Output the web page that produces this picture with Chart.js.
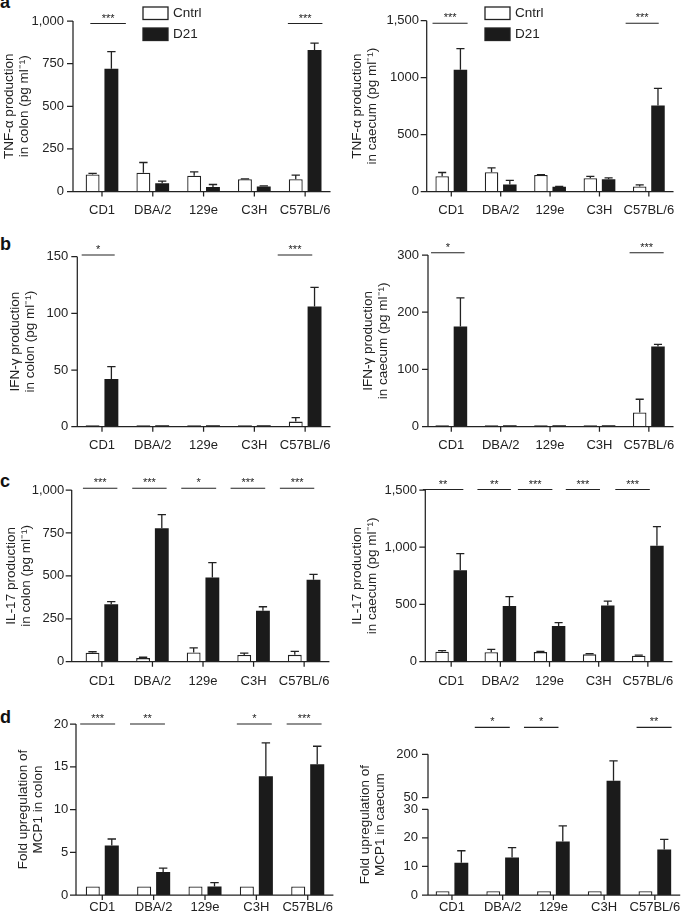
<!DOCTYPE html>
<html><head><meta charset="utf-8">
<script src="https://cdn.jsdelivr.net/npm/chart.js"></script>
<style>
html,body{margin:0;padding:0;background:#fff;}
#fig{position:relative;width:685px;height:918px;overflow:hidden;background:#fff;}
#fig canvas{position:absolute;}
.lt{position:absolute;left:0;font:bold 18px 'Liberation Sans',Arial,sans-serif;line-height:18px;color:#111;}
</style></head><body>
<div id="fig">
<div class="lt" style="top:-7px">a</div>
<div class="lt" style="top:235px">b</div>
<div class="lt" style="top:472px">c</div>
<div class="lt" style="top:708px">d</div>
</div>
<script>
const FONT = "'Liberation Sans', Arial, Helvetica, sans-serif";
const INK = '#222222';
const BLACK = '#1b1b1b';

// ---------- data ----------
const categories = ['CD1', 'DBA/2', '129e', 'C3H', 'C57BL/6'];
const groupNames = ['Cntrl', 'D21'];

// a: TNF-alpha, colon
const tnfColonCntrl = [100, 110, 92, 72, 72];
const tnfColonCntrlErr = [6, 60, 23, 2, 24];
const tnfColonD21 = [720, 49, 27, 29, 830];
const tnfColonD21Err = [100, 12, 14, 4, 40];
const tnfColonTicks = [0, 250, 500, 750, 1000];
const tnfColonTickLabels = ['0', '250', '500', '750', '1,000'];
const tnfColonSig = ['***', '', '', '', '***'];

// a: TNF-alpha, caecum
const tnfCaecumCntrl = [135, 170, 145, 117, 44];
const tnfCaecumCntrlErr = [32, 38, 3, 15, 15];
const tnfCaecumD21 = [1070, 62, 41, 108, 755];
const tnfCaecumD21Err = [185, 35, 3, 12, 150];
const tnfCaecumTicks = [0, 500, 1000, 1500];
const tnfCaecumTickLabels = ['0', '500', '1000', '1,500'];
const tnfCaecumSig = ['***', '', '', '', '***'];

// b: IFN-gamma, colon
const ifnColonCntrl = [1.2, 1.2, 1.2, 1.2, 4.5];
const ifnColonCntrlErr = [0, 0, 0, 0, 3.5];
const ifnColonD21 = [42, 1.2, 1.2, 1.2, 106];
const ifnColonD21Err = [11, 0, 0, 0, 17];
const ifnColonTicks = [0, 50, 100, 150];
const ifnColonTickLabels = ['0', '50', '100', '150'];
const ifnColonSig = ['*', '', '', '', '***'];

// b: IFN-gamma, caecum
const ifnCaecumCntrl = [2.5, 2.5, 2.5, 2.5, 25];
const ifnCaecumCntrlErr = [0, 0, 0, 0, 23];
const ifnCaecumD21 = [175, 2.5, 2.5, 2.5, 140];
const ifnCaecumD21Err = [50, 0, 0, 0, 4];
const ifnCaecumTicks = [0, 100, 200, 300];
const ifnCaecumTickLabels = ['0', '100', '200', '300'];
const ifnCaecumSig = ['*', '', '', '', '***'];

// c: IL-17, colon
const il17ColonCntrl = [52, 21, 54, 39, 40];
const il17ColonCntrlErr = [6, 5, 27, 11, 20];
const il17ColonD21 = [334, 777, 491, 297, 478];
const il17ColonD21Err = [16, 80, 86, 23, 31];
const il17ColonTicks = [0, 250, 500, 750, 1000];
const il17ColonTickLabels = ['0', '250', '500', '750', '1,000'];
const il17ColonSig = ['***', '***', '*', '***', '***'];

// c: IL-17, caecum
const il17CaecumCntrl = [87, 82, 84, 64, 52];
const il17CaecumCntrlErr = [9, 26, 5, 6, 6];
const il17CaecumD21 = [800, 486, 312, 492, 1014];
const il17CaecumD21Err = [145, 82, 29, 38, 166];
const il17CaecumTicks = [0, 500, 1000, 1500];
const il17CaecumTickLabels = ['0', '500', '1,000', '1,500'];
const il17CaecumSig = ['**', '**', '***', '***', '***'];

// d: MCP1 fold upregulation, colon
const mcpColonCntrl = [1, 1, 1, 1, 1];
const mcpColonCntrlErr = [0, 0, 0, 0, 0];
const mcpColonD21 = [5.8, 2.7, 1.0, 13.9, 15.3];
const mcpColonD21Err = [0.75, 0.45, 0.45, 3.9, 2.1];
const mcpColonTicks = [0, 5, 10, 15, 20];
const mcpColonTickLabels = ['0', '5', '10', '15', '20'];
const mcpColonSig = ['***', '**', '', '*', '***'];

// d: MCP1 fold upregulation, caecum (broken axis 30 -> 50)
const mcpCaecumCntrl = [1.3, 1.3, 1.3, 1.3, 1.3];
const mcpCaecumCntrlErr = [0, 0, 0, 0, 0];
const mcpCaecumD21 = [11.3, 13.1, 18.7, 109, 15.9];
const mcpCaecumD21Err = [4.2, 3.5, 5.5, 68, 3.6];
const mcpCaecumTicks = [0, 10, 20, 30, 50, 200];
const mcpCaecumTickLabels = ['0', '10', '20', '30', '50', '200'];
const mcpCaecumSig = ['', '*', '*', '', '**'];

// ---------- broken linear scale (0-30 | 50-200) ----------
const BRK = { lowMax: 30, highMin: 50, lowFrac: 0.609, gapFrac: 0.0824 };
class BrokenScale extends Chart.LinearScale {
  _frac(v) {
    if (v <= BRK.lowMax) return v / BRK.lowMax * BRK.lowFrac;
    if (v < BRK.highMin) return BRK.lowFrac + (v - BRK.lowMax) / (BRK.highMin - BRK.lowMax) * BRK.gapFrac;
    return BRK.lowFrac + BRK.gapFrac + (v - BRK.highMin) / (this.max - BRK.highMin) * (1 - BRK.lowFrac - BRK.gapFrac);
  }
  getPixelForValue(v) { return this.bottom - this._frac(v) * (this.bottom - this.top); }
  getValueForPixel(px) {
    const f = (this.bottom - px) / (this.bottom - this.top);
    const a = BRK.lowFrac, g = BRK.lowFrac + BRK.gapFrac;
    if (f <= a) return f / a * BRK.lowMax;
    if (f < g) return BRK.lowMax + (f - a) / BRK.gapFrac * (BRK.highMin - BRK.lowMax);
    return BRK.highMin + (f - g) / (1 - g) * (this.max - BRK.highMin);
  }
}
BrokenScale.id = 'broken';
BrokenScale.defaults = Chart.LinearScale.defaults;
Chart.register(BrokenScale);

// ---------- panel layout ----------
const panels = [
  { cx: 0, cy: 0, cw: 342, ch: 226, L: 76.6, R: 333.4, T: 21, B: 191.5, axisX: 73, yPad: 12.6, titlePad: 1.5, xPad: 10.7, legend: true,
    title: ['TNF-\u03b1 production', 'in colon (pg ml\u207b\u00b9)'],
    cntrl: tnfColonCntrl, cntrlErr: tnfColonCntrlErr, d21: tnfColonD21, d21Err: tnfColonD21Err,
    ticks: tnfColonTicks, tickLabels: tnfColonTickLabels, sig: tnfColonSig, sigLevel: 985,
    sigX: [[-0.23, 0.47], null, null, null, [3.66, 4.34]] },
  { cx: 342, cy: 0, cw: 343, ch: 226, L: 426.6, R: 683.4, T: 20.7, B: 191.5, axisX: 426.7, yPad: 7.6, titlePad: 7.5, xPad: 10.7, legend: true,
    title: ['TNF-\u03b1 production', 'in caecum (pg ml\u207b\u00b9)'],
    cntrl: tnfCaecumCntrl, cntrlErr: tnfCaecumCntrlErr, d21: tnfCaecumD21, d21Err: tnfCaecumD21Err,
    ticks: tnfCaecumTicks, tickLabels: tnfCaecumTickLabels, sig: tnfCaecumSig, sigLevel: 1478,
    sigX: [[-0.38, 0.33], null, null, null, [3.53, 4.2]] },
  { cx: 0, cy: 226, cw: 342, ch: 229, L: 76.6, R: 333.4, T: 256.7, B: 426.7, axisX: 77.3, yPad: 8.3, titlePad: 7.5, xPad: 10.7,
    title: ['IFN-\u03b3 production', 'in colon (pg ml\u207b\u00b9)'],
    cntrl: ifnColonCntrl, cntrlErr: ifnColonCntrlErr, d21: ifnColonD21, d21Err: ifnColonD21Err,
    ticks: ifnColonTicks, tickLabels: ifnColonTickLabels, sig: ifnColonSig, sigLevel: 151.5,
    sigX: [[-0.4, 0.25], null, null, null, [3.46, 4.14]] },
  { cx: 342, cy: 226, cw: 343, ch: 229, L: 426.6, R: 683.4, T: 255, B: 426.7, axisX: 428, yPad: 7.6, titlePad: 18.5, xPad: 10.7,
    title: ['IFN-\u03b3 production', 'in caecum (pg ml\u207b\u00b9)'],
    cntrl: ifnCaecumCntrl, cntrlErr: ifnCaecumCntrlErr, d21: ifnCaecumD21, d21Err: ifnCaecumD21Err,
    ticks: ifnCaecumTicks, tickLabels: ifnCaecumTickLabels, sig: ifnCaecumSig, sigLevel: 304,
    sigX: [[-0.41, 0.27], null, null, null, [3.61, 4.3]] },
  { cx: 0, cy: 455, cw: 342, ch: 235, L: 76.6, R: 333.4, T: 490, B: 661.7, axisX: 71.7, yPad: 12.3, titlePad: 3.5, xPad: 11.7,
    title: ['IL-17 production', 'in colon (pg ml\u207b\u00b9)'],
    cntrl: il17ColonCntrl, cntrlErr: il17ColonCntrlErr, d21: il17ColonD21, d21Err: il17ColonD21Err,
    ticks: il17ColonTicks, tickLabels: il17ColonTickLabels, sig: il17ColonSig, sigLevel: 1010,
    sigX: [[-0.375, 0.306], [0.6, 1.28], [1.57, 2.26], [2.545, 3.23], [3.52, 4.2]] },
  { cx: 342, cy: 455, cw: 343, ch: 235, L: 426.6, R: 683.4, T: 490, B: 661.7, axisX: 425.3, yPad: 9.6, titlePad: 8, xPad: 11.7,
    title: ['IL-17 production', 'in caecum (pg ml\u207b\u00b9)'],
    cntrl: il17CaecumCntrl, cntrlErr: il17CaecumCntrlErr, d21: il17CaecumD21, d21Err: il17CaecumD21Err,
    ticks: il17CaecumTicks, tickLabels: il17CaecumTickLabels, sig: il17CaecumSig, sigLevel: 1504,
    sigX: [[-0.576, 0.247], [0.534, 1.215], [1.357, 2.058], [2.331, 3.026], [3.338, 4.04]] },
  { cx: 0, cy: 690, cw: 342, ch: 228, L: 76.6, R: 333.4, T: 724, B: 895, axisX: 76, yPad: 8.3, titlePad: 15.5, xPad: 4.7,
    title: ['Fold upregulation of', 'MCP1 in colon'],
    cntrl: mcpColonCntrl, cntrlErr: mcpColonCntrlErr, d21: mcpColonD21, d21Err: mcpColonD21Err,
    ticks: mcpColonTicks, tickLabels: mcpColonTickLabels, sig: mcpColonSig, sigLevel: 20,
    sigX: [[-0.43, 0.25], [0.54, 1.22], null, [2.62, 3.3], [3.59, 4.27]] },
  { cx: 342, cy: 690, cw: 343, ch: 228, L: 426.6, R: 683.4, T: 754.3, B: 895, axisX: 428, yPad: 8.6, titlePad: 15.5, xPad: 4.7,
    broken: true, axisSegments: [[0, 30], [50, 200]],
    title: ['Fold upregulation of', 'MCP1 in caecum'],
    cntrl: mcpCaecumCntrl, cntrlErr: mcpCaecumCntrlErr, d21: mcpCaecumD21, d21Err: mcpCaecumD21Err,
    ticks: mcpCaecumTicks, tickLabels: mcpCaecumTickLabels, sig: mcpCaecumSig, sigLevel: 293,
    sigX: [null, [0.45, 1.14], [1.42, 2.1], null, [3.64, 4.33]] }
];

Chart.defaults.font.family = FONT;
Chart.defaults.color = INK;

function makePlugins(p) {
  return [
    { id: 'gpErrors', afterDatasetsDraw(chart) {
        const ctx = chart.ctx, ys = chart.scales.y;
        ctx.save(); ctx.strokeStyle = INK; ctx.lineWidth = 1.3;
        chart.data.datasets.forEach((ds, di) => {
          chart.getDatasetMeta(di).data.forEach((bar, i) => {
            const e = ds.errors[i]; if (!e) return;
            const y0 = ys.getPixelForValue(ds.data[i]);
            const y1 = ys.getPixelForValue(ds.data[i] + e);
            const w = bar.width * 0.6;
            ctx.beginPath();
            ctx.moveTo(bar.x, y0); ctx.lineTo(bar.x, y1);
            ctx.moveTo(bar.x - w / 2, y1); ctx.lineTo(bar.x + w / 2, y1);
            ctx.stroke();
          });
        });
        ctx.restore();
    } },
    { id: 'gpAxes', afterDraw(chart) {
        const ctx = chart.ctx, xs = chart.scales.x, ys = chart.scales.y;
        const ax = p.axisX - p.cx;
        const yB = ys.getPixelForValue(0);
        ctx.save(); ctx.strokeStyle = INK; ctx.lineWidth = 1.25;
        ctx.beginPath();
        const segs = p.axisSegments || [[p.ticks[0], p.ticks[p.ticks.length - 1]]];
        segs.forEach(([a, b]) => { ctx.moveTo(ax, ys.getPixelForValue(a) + 0.6); ctx.lineTo(ax, ys.getPixelForValue(b)); });
        p.ticks.forEach(t => { const y = ys.getPixelForValue(t); ctx.moveTo(ax - 6, y); ctx.lineTo(ax, y); });
        ctx.moveTo(ax, yB); ctx.lineTo(chart.chartArea.right, yB);
        categories.forEach((c, i) => { const x = xs.getPixelForValue(i); ctx.moveTo(x, yB); ctx.lineTo(x, yB + 5); });
        ctx.stroke();
        // significance bars
        ctx.lineWidth = 1.1;
        ctx.fillStyle = INK; ctx.font = '11px ' + FONT; ctx.textAlign = 'center'; ctx.textBaseline = 'alphabetic';
        const ySig = ys.getPixelForValue(p.sigLevel);
        p.sig.forEach((s, i) => {
          if (!s || !p.sigX[i]) return;
          const x0 = xs.getPixelForValue(p.sigX[i][0]), x1 = xs.getPixelForValue(p.sigX[i][1]);
          ctx.beginPath(); ctx.moveTo(x0, ySig); ctx.lineTo(x1, ySig); ctx.stroke();
          ctx.fillText(s, (x0 + x1) / 2, ySig - 2);
        });
        // legend
        if (p.legend) {
          chart.data.datasets.forEach((ds, i) => {
            const bx = 143, by = i === 0 ? 7 : 28, bw = 25, bh = 12.5;
            ctx.fillStyle = ds.backgroundColor; ctx.fillRect(bx, by, bw, bh);
            ctx.strokeStyle = INK; ctx.lineWidth = 1.3; ctx.strokeRect(bx, by, bw, bh);
            ctx.fillStyle = INK; ctx.font = '13.5px ' + FONT; ctx.textAlign = 'left'; ctx.textBaseline = 'middle';
            ctx.fillText(ds.label, bx + 30, by + bh / 2 + 0.5);
          });
        }
        ctx.restore();
    } }
  ];
}

const fig = document.getElementById('fig');
panels.forEach(p => {
  const cv = document.createElement('canvas');
  cv.width = p.cw; cv.height = p.ch;
  cv.style.left = p.cx + 'px'; cv.style.top = p.cy + 'px';
  cv.style.width = p.cw + 'px'; cv.style.height = p.ch + 'px';
  fig.appendChild(cv);
  new Chart(cv, {
    type: 'bar',
    data: {
      labels: categories,
      datasets: [
        { label: groupNames[0], data: p.cntrl, errors: p.cntrlErr, backgroundColor: '#ffffff', borderColor: INK, borderWidth: 1.3, borderSkipped: 'start', categoryPercentage: 0.74, barPercentage: 0.74 },
        { label: groupNames[1], data: p.d21, errors: p.d21Err, backgroundColor: BLACK, borderColor: BLACK, borderWidth: 0, categoryPercentage: 0.74, barPercentage: 0.74 }
      ]
    },
    options: {
      responsive: false, maintainAspectRatio: false, animation: false, devicePixelRatio: 1,
      layout: { autoPadding: false, padding: { left: 0, top: p.T - p.cy, right: p.cx + p.cw - p.R, bottom: 0 } },
      plugins: { legend: { display: false }, tooltip: { enabled: false }, title: { display: false } },
      scales: {
        x: {
          type: 'category', offset: true,
          grid: { display: false, drawTicks: false }, border: { display: false },
          ticks: { font: { size: 13 }, color: INK, padding: p.xPad, maxRotation: 0, minRotation: 0, autoSkip: false },
          afterFit(s) { s.height = p.cy + p.ch - p.B; }
        },
        y: {
          type: p.broken ? 'broken' : 'linear', min: 0, max: p.ticks[p.ticks.length - 1],
          grid: { display: false, drawTicks: false }, border: { display: false },
          ticks: { font: { size: 13 }, color: INK, padding: p.yPad, autoSkip: false,
                   callback: (v) => { const k = p.ticks.indexOf(v); return k >= 0 ? p.tickLabels[k] : ''; } },
          title: { display: true, text: p.title, color: INK, font: { size: 13.5, lineHeight: 1.11 }, padding: { top: p.titlePad, bottom: 0 } },
          afterBuildTicks(s) { s.ticks = p.ticks.map(v => ({ value: v })); },
          afterFit(s) { s.width = p.L - p.cx; }
        }
      }
    },
    plugins: makePlugins(p)
  });
});
</script>
</body></html>
